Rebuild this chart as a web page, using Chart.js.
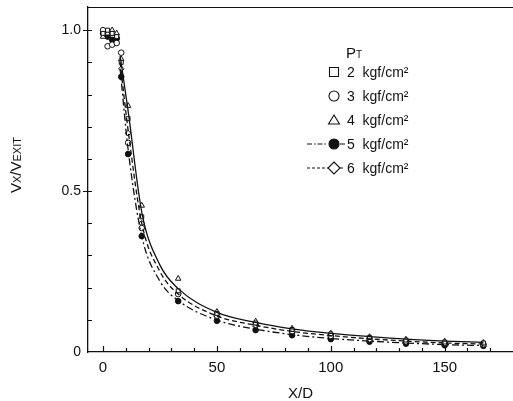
<!DOCTYPE html>
<html>
<head>
<meta charset="utf-8">
<script src="https://cdn.jsdelivr.net/npm/chart.js@4.4.1/dist/chart.umd.min.js"></script>
<style>
  html, body { margin: 0; padding: 0; background: #fff; }
</style>
</head>
<body>
<canvas id="chart" width="513" height="401"></canvas>
<script>
const xPos = [0, 2, 4, 6, 8, 11, 17, 33, 50, 67, 83, 100, 117, 133, 150, 167]
const p2 = [0.99, 1.0, 0.99, 0.98, 0.90, 0.725, 0.42, 0.19, 0.12, 0.09, 0.07, 0.056, 0.045, 0.037, 0.031, 0.028]
const p3 = [1.0, 0.95, 0.955, 0.96, 0.93, 0.65, 0.385, 0.18, 0.113, 0.085, 0.065, 0.05, 0.04, 0.033, 0.028, 0.024]
const p4 = [0.98, 0.99, 1.0, 0.99, 0.91, 0.765, 0.455, 0.228, 0.125, 0.095, 0.073, 0.058, 0.047, 0.039, 0.033, 0.029]
const p5 = [0.99, 0.98, 0.97, 0.975, 0.855, 0.615, 0.36, 0.158, 0.097, 0.068, 0.052, 0.04, 0.032, 0.026, 0.021, 0.019]
const p6 = [1.0, 0.99, 0.98, 0.97, 0.88, 0.68, 0.40, 0.182, 0.11, 0.08, 0.06, 0.047, 0.037, 0.03, 0.025, 0.022]

// fitted curves
const curveX = [7.5, 11, 17, 25, 33, 50, 67, 83, 100, 117, 133, 150, 167]
const curveSolid = [0.92, 0.75, 0.435, 0.27, 0.197, 0.123, 0.092, 0.072, 0.058, 0.048, 0.040, 0.034, 0.030]
const curveDash = [0.90, 0.69, 0.40, 0.25, 0.18, 0.112, 0.083, 0.064, 0.051, 0.041, 0.034, 0.028, 0.025]
const curveDashDot = [0.88, 0.63, 0.36, 0.22, 0.16, 0.099, 0.071, 0.054, 0.042, 0.034, 0.028, 0.023, 0.020]

const xTicks = [0, 10, 20, 30, 40, 50, 60, 70, 80, 90, 100, 110, 120, 130, 140, 150, 160, 170]
const xMajor = [0, 50, 100, 150]
const yTicks = [0, 0.1, 0.2, 0.3, 0.4, 0.5, 0.6, 0.7, 0.8, 0.9, 1.0]
const yMajor = [0, 0.5, 1.0]
const yLabels = ['0', '0.5', '1.0']

const legendLabels = ['2  kgf/cm²', '3  kgf/cm²', '4  kgf/cm²', '5  kgf/cm²', '6  kgf/cm²']
const FONT = "'Liberation Sans', Arial, sans-serif"
const INK = '#111'

const pts = (xs, ys) => ys.map((y, i) => ({ x: xs[i], y: y }))

function markerDs (label, ys, style, fill) {
  return {
    label: label,
    data: pts(xPos, ys),
    showLine: false,
    pointStyle: style,
    pointRadius: style === 'triangle' ? 3.2 : 2.8,
    pointBorderWidth: 1,
    pointBorderColor: INK,
    pointBackgroundColor: fill
  }
}

function curveDs (ys, dash) {
  return {
    label: 'fit',
    data: pts(curveX, ys),
    showLine: true,
    pointRadius: 0,
    borderColor: INK,
    borderWidth: 1.3,
    borderDash: dash,
    cubicInterpolationMode: 'monotone',
    fill: false
  }
}

// draws the box top, inward ticks, y title and the legend
const decor = {
  id: 'decor',
  afterDraw (chart) {
    const ctx = chart.ctx
    const a = chart.chartArea
    const xs = chart.scales.x
    const ys = chart.scales.y
    ctx.save()
    ctx.strokeStyle = INK
    ctx.lineWidth = 1.2
    ctx.beginPath()
    ctx.moveTo(a.left, a.top + 0.5)
    ctx.lineTo(a.right, a.top + 0.5)
    xTicks.forEach(v => {
      const px = Math.round(xs.getPixelForValue(v)) + 0.5
      const len = xMajor.includes(v) ? 6 : 4
      ctx.moveTo(px, a.bottom)
      ctx.lineTo(px, a.bottom - len)
    })
    yTicks.forEach(v => {
      const py = Math.round(ys.getPixelForValue(v)) + 0.5
      if (v === 0) return
      ctx.moveTo(a.left, py)
      ctx.lineTo(a.left + 4, py)
      if (v === 0.5 || v === 1.0) {
        ctx.moveTo(a.left, py)
        ctx.lineTo(a.left - 5, py)
      }
    })
    ctx.stroke()

    // y title with small caps subscripts
    ctx.fillStyle = INK
    ctx.translate(21, 193)
    ctx.rotate(-Math.PI / 2)
    ctx.textBaseline = 'alphabetic'
    const parts = [['V', 15], ['X', 11], ['/', 15], ['V', 15], ['EXIT', 11]]
    let x = 0
    parts.forEach(p => {
      ctx.font = p[1] + 'px ' + FONT
      ctx.fillText(p[0], x, 0)
      x += ctx.measureText(p[0]).width
    })
    ctx.setTransform(1, 0, 0, 1, 0, 0)

    // legend
    ctx.font = '15px ' + FONT
    ctx.fillText('P', 346, 58)
    ctx.font = '10px ' + FONT
    ctx.fillText('T', 356, 58)
    const rowY = [72, 96, 120, 144, 168]
    const sx = 334
    const styles = ['rect', 'circle', 'triangle', 'dot', 'rectRot']
    rowY.forEach((y, i) => {
      ctx.lineWidth = 1.1
      ctx.setLineDash([])
      ctx.beginPath()
      const s = styles[i]
      if (s === 'rect') ctx.rect(sx - 4.5, y - 4.5, 9, 9)
      if (s === 'circle' || s === 'dot') ctx.arc(sx, y, 5, 0, Math.PI * 2)
      if (s === 'triangle') {
        ctx.moveTo(sx, y - 5); ctx.lineTo(sx + 5.5, y + 4); ctx.lineTo(sx - 5.5, y + 4); ctx.closePath()
      }
      if (s === 'rectRot') {
        ctx.moveTo(sx, y - 6); ctx.lineTo(sx + 6, y); ctx.lineTo(sx, y + 6); ctx.lineTo(sx - 6, y); ctx.closePath()
      }
      if (s === 'dot') ctx.fill()
      ctx.stroke()
      if (i >= 3) {
        ctx.beginPath()
        ctx.setLineDash(i === 3 ? [5, 2, 1.5, 2] : [3, 2])
        ctx.moveTo(307, y); ctx.lineTo(sx - 6, y)
        ctx.moveTo(sx + 6, y); ctx.lineTo(sx + 11, y)
        ctx.stroke()
        ctx.setLineDash([])
      }
      ctx.font = '14px ' + FONT
      ctx.textBaseline = 'middle'
      ctx.fillText(legendLabels[i], 347, y + 1)
      ctx.textBaseline = 'alphabetic'
    })
    ctx.restore()
  }
}

new Chart(document.getElementById('chart').getContext('2d'), {
  type: 'scatter',
  data: {
    datasets: [
      curveDs(curveSolid, []),
      curveDs(curveDash, [5, 3]),
      curveDs(curveDashDot, [7, 3, 2, 3]),
      markerDs('2 kgf/cm²', p2, 'rect', '#fff'),
      markerDs('3 kgf/cm²', p3, 'circle', '#fff'),
      markerDs('4 kgf/cm²', p4, 'triangle', '#fff'),
      markerDs('5 kgf/cm²', p5, 'circle', INK),
      markerDs('6 kgf/cm²', p6, 'rectRot', '#fff')
    ]
  },
  options: {
    responsive: false,
    animation: false,
    layout: { autoPadding: false, padding: { top: 7, right: 0, left: 0, bottom: 0 } },
    plugins: {
      legend: { display: false },
      tooltip: { enabled: false }
    },
    scales: {
      x: {
        type: 'linear',
        min: -6.6,
        max: 180,
        afterBuildTicks: (s) => { s.ticks = xTicks.map(v => ({ value: v })) },
        afterFit: (s) => { s.height = 49; s.paddingLeft = 0; s.paddingRight = 0 },
        grid: { display: false, drawTicks: false },
        border: { display: true, color: INK, width: 1.3 },
        ticks: {
          autoSkip: false,
          maxRotation: 0,
          padding: 7,
          color: INK,
          font: { family: FONT, size: 15 },
          callback: (v) => xMajor.includes(v) ? String(v) : ''
        },
        title: {
          display: true,
          text: 'X/D',
          color: INK,
          font: { family: FONT, size: 15 },
          padding: { top: 4, bottom: -2 }
        }
      },
      y: {
        type: 'linear',
        min: 0,
        max: 1.072,
        afterBuildTicks: (s) => { s.ticks = yTicks.map(v => ({ value: v })) },
        afterFit: (s) => { s.width = 88; s.paddingTop = 0; s.paddingBottom = 0 },
        grid: { display: false, drawTicks: false },
        border: { display: true, color: INK, width: 1.3 },
        ticks: {
          autoSkip: false,
          padding: 7,
          color: INK,
          font: { family: FONT, size: 14 },
          callback: (v) => {
            const k = yMajor.findIndex(m => Math.abs(m - v) < 1e-6)
            return k >= 0 ? yLabels[k] : ''
          }
        }
      }
    }
  },
  plugins: [decor]
})
</script>
</body>
</html>
